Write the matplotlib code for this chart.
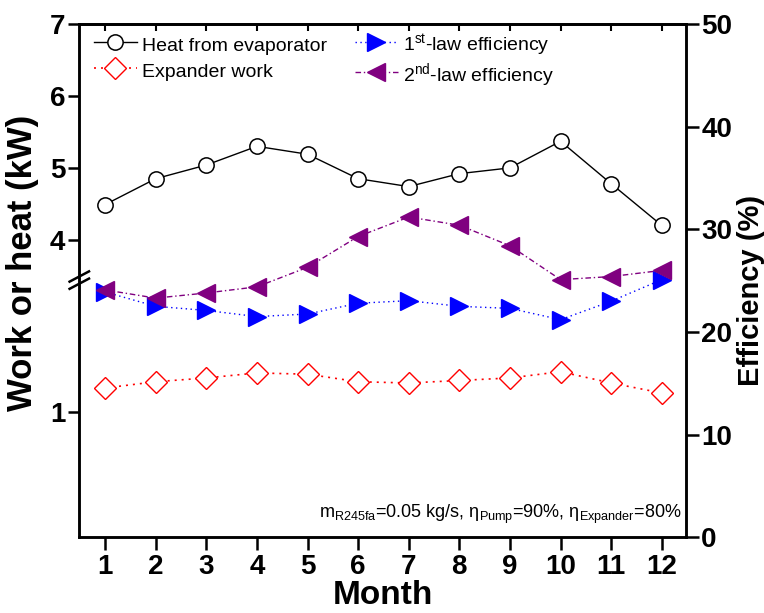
import numpy as np
import matplotlib
matplotlib.use("Agg")
import matplotlib.pyplot as plt
from matplotlib.font_manager import fontManager

names = {f.name for f in fontManager.ttflist}
narrow = "Liberation Sans Narrow" if "Liberation Sans Narrow" in names else "Liberation Sans"
plt.rcParams["font.family"] = [narrow, "DejaVu Sans"]
plt.rcParams["mathtext.fontset"] = "custom"
plt.rcParams["mathtext.rm"] = narrow
plt.rcParams["mathtext.it"] = narrow + ":italic"
plt.rcParams["mathtext.bf"] = narrow + ":bold"

# data
months = [1, 2, 3, 4, 5, 6, 7, 8, 9, 10, 11, 12]
heat_evap = [4.49, 4.85, 5.04, 5.30, 5.19, 4.85, 4.74, 4.92, 5.00, 5.37, 4.78, 4.20]
expander_work = [1.19, 1.24, 1.27, 1.31, 1.30, 1.24, 1.23, 1.25, 1.27, 1.32, 1.23, 1.15]
eff_1st = [23.9, 22.5, 22.1, 21.5, 21.75, 22.8, 23.05, 22.5, 22.3, 21.2, 23.0, 25.1]
eff_2nd = [24.1, 23.3, 23.8, 24.4, 26.3, 29.3, 31.2, 30.4, 28.4, 25.1, 25.4, 26.0]

# broken left axis: 0..LO linear, gap, HI..7 linear
LO, HI = 2.05, 3.44
S1, S2 = 0.2447, 0.1403


def fwd(y):
    y = np.asarray(y, dtype=float)
    return np.where(y <= LO, y * S1, np.where(y >= HI, LO * S1 + (y - HI) * S2, LO * S1))


def inv(t):
    t = np.asarray(t, dtype=float)
    return np.where(t <= LO * S1, t / S1, HI + (t - LO * S1) / S2)


fig = plt.figure(figsize=(7.64, 6.13), dpi=100)
ax = fig.add_axes([0.1038, 0.1235, 0.7942, 0.8373])
ax2 = ax.twinx()

ax.set_yscale("function", functions=(fwd, inv))
ax.set_ylim(0, 7)
ax.set_xlim(0.49, 12.48)
ax2.set_ylim(0, 50)

l1, = ax.plot(months, heat_evap, color="black", lw=1.0, marker="o", ms=11,
              mfc="white", mec="black", mew=1.1, label="Heat from evaporator")
l2, = ax.plot(months, expander_work, color="red", lw=1.2, ls=(0, (1.2, 3)),
              marker="D", ms=11, mfc="white", mec="red", mew=1.0, label="Expander work")
l3, = ax2.plot(months, eff_1st, color="blue", lw=1.0, ls=(0, (1, 2.5)),
               marker=">", ms=13, mfc="blue", mec="blue", label=r"1$^{\rm st}$-law efficiency")
l4, = ax2.plot(months, eff_2nd, color="purple", lw=1.0, ls=(0, (4, 2, 1, 2)),
               marker="<", ms=13, mfc="purple", mec="purple", label=r"2$^{\rm nd}$-law efficiency")

ax.set_yticks([1, 4, 5, 6, 7])
ax.set_yticks([], minor=True)
ax.set_xticks(months)
ax2.set_yticks([0, 10, 20, 30, 40, 50])

for a in (ax, ax2):
    for s in a.spines.values():
        s.set_linewidth(1.8)
ax.tick_params(axis="y", direction="out", length=8, width=1.8, labelsize=20, pad=2)
ax.tick_params(axis="x", direction="out", length=9, width=1.8, labelsize=20, pad=3)
ax2.tick_params(axis="y", direction="out", length=9, width=1.8, labelsize=20, pad=2)
for lab in ax.get_xticklabels() + ax.get_yticklabels() + ax2.get_yticklabels():
    lab.set_fontweight("bold")

# top ticks point inward
sec = ax.secondary_xaxis("top")
sec.set_xticks(months)
sec.tick_params(direction="in", length=5, width=1.5)
sec.set_xticklabels([])
sec.spines["top"].set_linewidth(1.8)

ax.set_xlabel("Month", fontsize=24, fontweight="bold", labelpad=0)
ax.set_ylabel("Work or heat (kW)", fontsize=25, fontweight="bold")
ax2.set_ylabel("Efficiency (%)", fontsize=21, fontweight="bold")
ax.yaxis.set_label_coords(-0.066, 0.535)
ax2.yaxis.set_label_coords(1.084, 0.48)

# axis break marks on the left spine
yb = float(fwd(LO)) / float(fwd(7))
for dy in (-0.007, 0.007):
    ax.plot([-0.016, 0.016], [yb + dy - 0.01, yb + dy + 0.01], transform=ax.transAxes,
            color="black", lw=1.8, clip_on=False)

leg = ax2.legend(handles=[l1, l2, l3, l4], ncol=2, loc="upper left",
                 bbox_to_anchor=(-0.005, 1.018), frameon=False, fontsize=14,
                 handlelength=2.2, handleheight=1.5, handletextpad=0.3,
                 columnspacing=1.4, labelspacing=0.15)

ax2.text(0.993, 0.022,
         "m$_{\\rm R245fa}$=0.05 kg/s, \u03b7$_{\\rm Pump}$=90%, \u03b7$_{\\rm Expander}$=80%",
         transform=ax2.transAxes, ha="right", va="bottom", fontsize=13)

fig.savefig("out.png", dpi=100)
